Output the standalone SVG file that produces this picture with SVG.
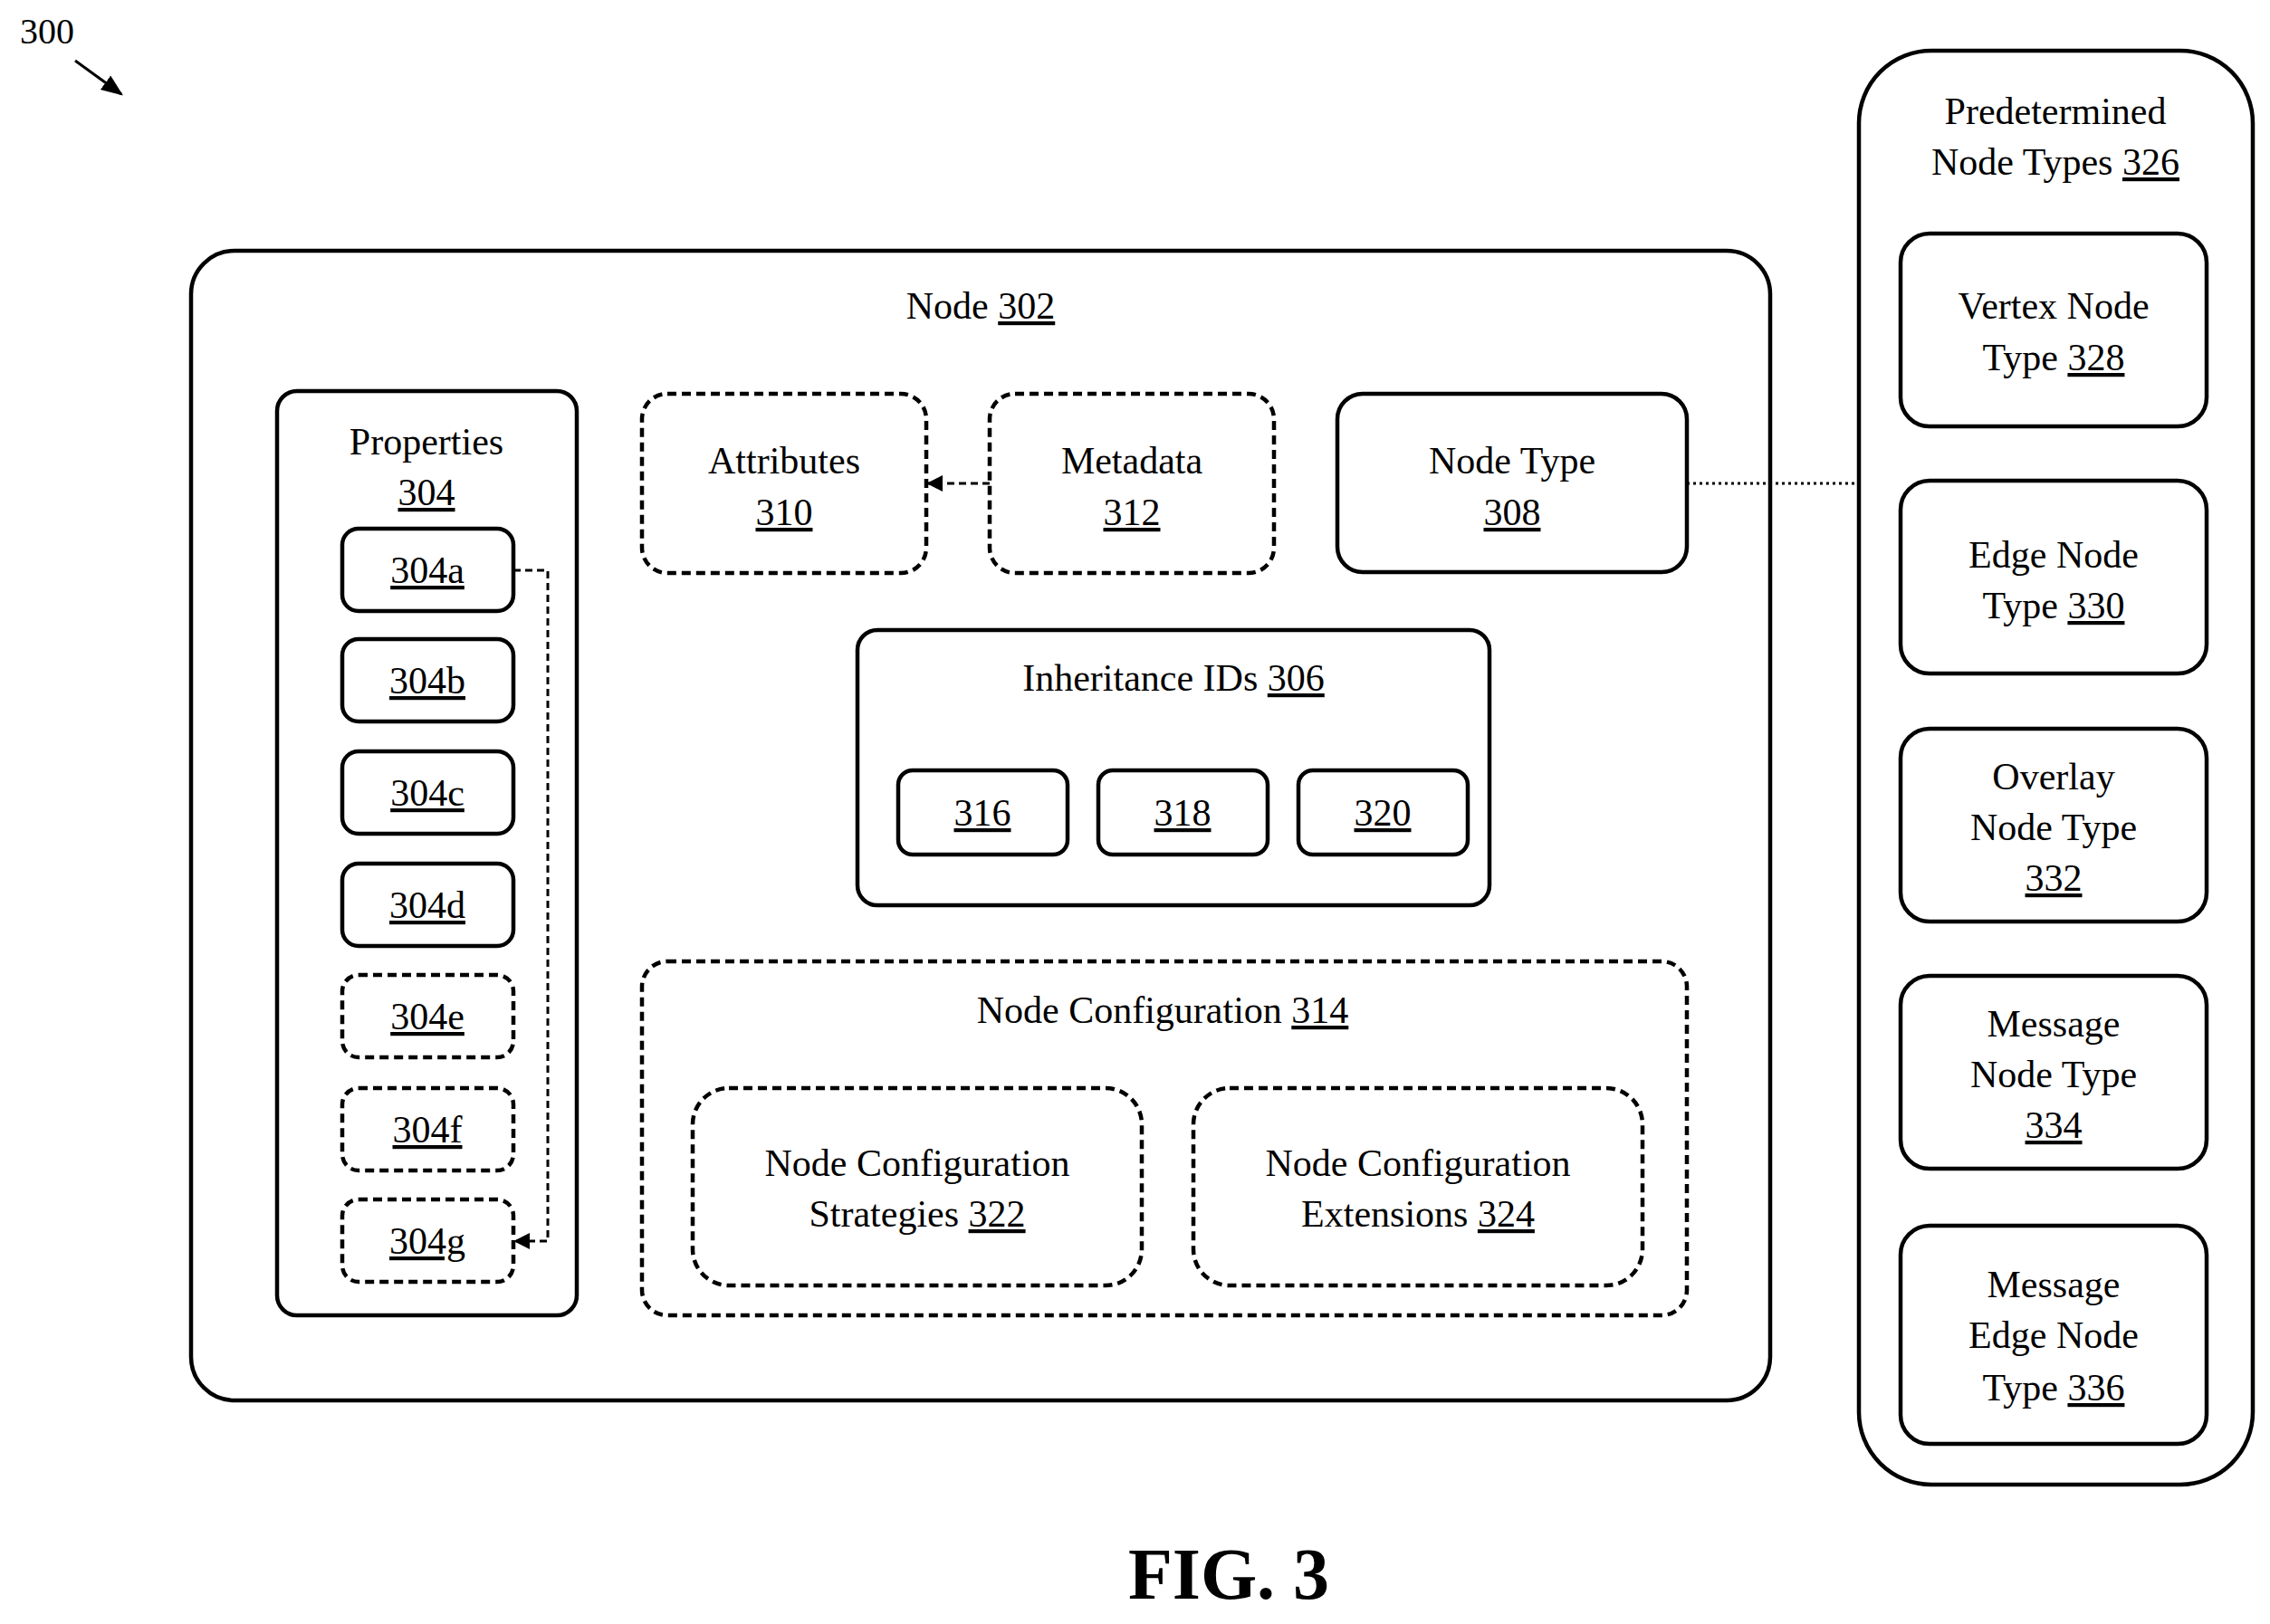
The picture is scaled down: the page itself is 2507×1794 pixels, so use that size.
<svg xmlns="http://www.w3.org/2000/svg" width="2507" height="1794" viewBox="0 0 2507 1794">
<defs>
<style>
text{font-family:"Liberation Serif","Times New Roman",serif;font-size:42px;fill:#000;text-anchor:middle}
.u{text-decoration:underline}
.b{fill:#fff;stroke:#000;stroke-width:4.5}
.d{stroke-dasharray:10 6}
.c{fill:none;stroke:#000;stroke-width:3}
</style>
<marker id="ah" viewBox="0 0 10 10" refX="9" refY="5" markerWidth="6" markerHeight="6" orient="auto"><path d="M0,0L10,5L0,10z" fill="#000"/></marker>
<marker id="ah2" viewBox="0 0 10 10" refX="9" refY="5" markerWidth="8" markerHeight="8" orient="auto"><path d="M0,1L10,5L0,9z" fill="#000"/></marker>
</defs>
<rect width="2507" height="1794" fill="#fff"/>
<text x="52" y="48" style="font-size:40px">300</text>
<line x1="83" y1="67" x2="134" y2="104" class="c" stroke-width="4" marker-end="url(#ah2)"/>
<g id="node302"><rect class="b" x="211" y="277" width="1744" height="1270" rx="48"/>
<text x="1083" y="352">Node <tspan class="u">302</tspan></text></g>
<g id="props304"><rect class="b" x="306" y="432" width="331" height="1021" rx="22"/>
<text x="471" y="502">Properties</text><text x="471" y="558" class="u">304</text></g>
<g id="p304a"><rect class="b" x="378" y="584" width="189" height="91" rx="18"/><text x="472" y="644" class="u">304a</text></g>
<g id="p304b"><rect class="b" x="378" y="706" width="189" height="91" rx="18"/><text x="472" y="766" class="u">304b</text></g>
<g id="p304c"><rect class="b" x="378" y="830" width="189" height="91" rx="18"/><text x="472" y="890" class="u">304c</text></g>
<g id="p304d"><rect class="b" x="378" y="954" width="189" height="91" rx="18"/><text x="472" y="1014" class="u">304d</text></g>
<g id="p304e"><rect class="b d" x="378" y="1077" width="189" height="91" rx="18"/><text x="472" y="1137" class="u">304e</text></g>
<g id="p304f"><rect class="b d" x="378" y="1202" width="189" height="91" rx="18"/><text x="472" y="1262" class="u">304f</text></g>
<g id="p304g"><rect class="b d" x="378" y="1325" width="189" height="91" rx="18"/><text x="472" y="1385" class="u">304g</text></g>
<g id="attr310"><rect class="b d" x="709" y="435" width="314" height="198" rx="28"/><text x="866" y="523">Attributes</text><text x="866" y="580" class="u">310</text></g>
<g id="meta312"><rect class="b d" x="1093" y="435" width="314" height="198" rx="28"/><text x="1250" y="523">Metadata</text><text x="1250" y="580" class="u">312</text></g>
<g id="type308"><rect class="b" x="1477" y="435" width="386" height="197" rx="28"/><text x="1670" y="523">Node Type</text><text x="1670" y="580" class="u">308</text></g>
<g id="inh306"><rect class="b" x="947" y="696" width="698" height="304" rx="22"/><text x="1296" y="763">Inheritance IDs <tspan class="u">306</tspan></text></g>
<g id="i316"><rect class="b" x="992" y="851" width="187" height="93" rx="16"/><text x="1085" y="912" class="u">316</text></g>
<g id="i318"><rect class="b" x="1213" y="851" width="187" height="93" rx="16"/><text x="1306" y="912" class="u">318</text></g>
<g id="i320"><rect class="b" x="1434" y="851" width="187" height="93" rx="16"/><text x="1527" y="912" class="u">320</text></g>
<g id="conf314"><rect class="b d" x="709" y="1062" width="1154" height="391" rx="28"/><text x="1284" y="1130">Node Configuration <tspan class="u">314</tspan></text></g>
<g id="conf322"><rect class="b d" x="765" y="1202" width="496" height="218" rx="40"/><text x="1013" y="1299">Node Configuration</text><text x="1013" y="1355">Strategies <tspan class="u">322</tspan></text></g>
<g id="conf324"><rect class="b d" x="1318" y="1202" width="496" height="218" rx="40"/><text x="1566" y="1299">Node Configuration</text><text x="1566" y="1355">Extensions <tspan class="u">324</tspan></text></g>
<g id="pred326"><rect class="b" x="2053" y="56" width="435" height="1584" rx="80"/><text x="2270" y="137">Predetermined</text><text x="2270" y="193">Node Types <tspan class="u">326</tspan></text></g>
<g id="t328"><rect class="b" x="2099" y="258" width="338" height="213" rx="32"/><text x="2268" y="352">Vertex Node</text><text x="2268" y="409">Type <tspan class="u">328</tspan></text></g>
<g id="t330"><rect class="b" x="2099" y="531" width="338" height="213" rx="32"/><text x="2268" y="627">Edge Node</text><text x="2268" y="683">Type <tspan class="u">330</tspan></text></g>
<g id="t332"><rect class="b" x="2099" y="805" width="338" height="213" rx="32"/><text x="2268" y="872">Overlay</text><text x="2268" y="928">Node Type</text><text x="2268" y="984" class="u">332</text></g>
<g id="t334"><rect class="b" x="2099" y="1078" width="338" height="213" rx="32"/><text x="2268" y="1145">Message</text><text x="2268" y="1201">Node Type</text><text x="2268" y="1257" class="u">334</text></g>
<g id="t336"><rect class="b" x="2099" y="1354" width="338" height="241" rx="32"/><text x="2268" y="1433">Message</text><text x="2268" y="1489">Edge Node</text><text x="2268" y="1547">Type <tspan class="u">336</tspan></text></g>
<g id="connectors">
<polyline points="567,630 605,630 605,1371 569,1371" class="c" stroke-dasharray="8 5" marker-end="url(#ah)"/>
<line x1="1093" y1="534" x2="1025" y2="534" class="c" stroke-dasharray="8 5" marker-end="url(#ah)"/>
<line x1="1863" y1="534" x2="2053" y2="534" class="c" stroke-dasharray="3 4"/>
</g>
<text x="1357" y="1766" style="font-size:80px;font-weight:bold">FIG. 3</text>
</svg>
